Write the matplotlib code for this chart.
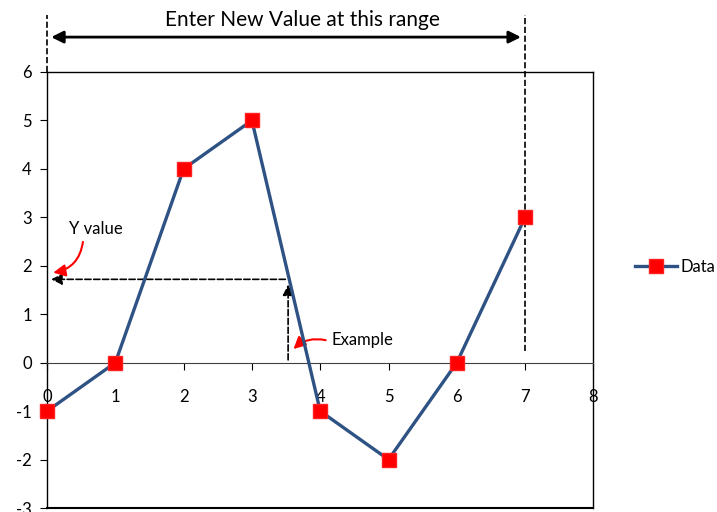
import matplotlib
matplotlib.use('Agg')
import matplotlib.pyplot as plt

plt.rcParams['font.family'] = ['Lato', 'DejaVu Sans']
plt.rcParams['axes.unicode_minus'] = False

# data
x_vals = [0, 1, 2, 3, 4, 5, 6, 7]
y_vals = [-1, 0, 4, 5, -1, -2, 0, 3]
series_name = 'Data'
x_ticks = [0, 1, 2, 3, 4, 5, 6, 7, 8]
y_ticks = [-3, -2, -1, 0, 1, 2, 3, 4, 5, 6]

# example lookup point
example_x = 3.53
example_y = 1.72
range_top = 7.18
range_arrow_y = 6.72

fig = plt.figure(figsize=(7.17, 5.12), dpi=100)
ax = fig.add_axes([0.0656, 0.0078, 0.762, 0.8516])

ax.plot(x_vals, y_vals, color='#2E5283', linewidth=2.4, marker='s',
        markersize=10, markerfacecolor='#FF0000', markeredgecolor='#FF2020',
        label=series_name, zorder=5, clip_on=False)

ax.set_xlim(0, 8)
ax.set_ylim(-3, 6)
ax.set_xticks(x_ticks)
ax.set_yticks(y_ticks)

# x axis crosses at y = 0, keep the box around the plot area
ax.spines['bottom'].set_position(('data', 0))
ax.spines['bottom'].set_color('#404040')
ax.plot([0, 1], [0, 0], transform=ax.transAxes, color='black', lw=1.5, clip_on=False)
for s in ['left', 'right', 'top']:
    ax.spines[s].set_linewidth(1.0)

ax.tick_params(axis='x', direction='out', length=5, pad=14, labelsize=12)
ax.tick_params(axis='y', direction='out', length=5, pad=6, labelsize=12)

# range indicator above the plot
ax.plot([0, 0], [6, range_top], ls='--', color='black', lw=1.2, clip_on=False)
ax.plot([7, 7], [0.25, range_top], ls='--', color='black', lw=1.2, clip_on=False)
ax.annotate('', xy=(0.02, range_arrow_y), xytext=(6.98, range_arrow_y),
            arrowprops=dict(arrowstyle='<|-|>', color='black', lw=2, mutation_scale=18),
            annotation_clip=False)
ax.text(3.74, 7.08, 'Enter New Value at this range', ha='center', va='center', fontsize=15)

# example lookup arrows
ax.annotate('', xy=(example_x, example_y - 0.05), xytext=(example_x, 0),
            arrowprops=dict(arrowstyle='-|>', ls='--', color='black', lw=1.2, mutation_scale=16))
ax.annotate('', xy=(0.02, example_y), xytext=(example_x, example_y),
            arrowprops=dict(arrowstyle='-|>', ls='--', color='black', lw=1.2, mutation_scale=16))

ax.text(0.32, 2.76, 'Y value', fontsize=12, va='center', ha='left')
ax.annotate('', xy=(0.05, 1.85), xytext=(0.53, 2.55),
            arrowprops=dict(arrowstyle='-|>', color='red', lw=1.5, mutation_scale=18,
                            connectionstyle='arc3,rad=-0.4'))
ax.text(4.17, 0.46, 'Example', fontsize=12, va='center', ha='left')
ax.annotate('', xy=(3.58, 0.24), xytext=(4.12, 0.45),
            arrowprops=dict(arrowstyle='-|>', color='red', lw=1.5, mutation_scale=18,
                            connectionstyle='arc3,rad=0.3'))

fig.legend(loc='center left', bbox_to_anchor=(0.865, 0.478), frameon=False,
           fontsize=12, handlelength=2.5, handletextpad=0.2)

fig.savefig('out.png', dpi=100)
